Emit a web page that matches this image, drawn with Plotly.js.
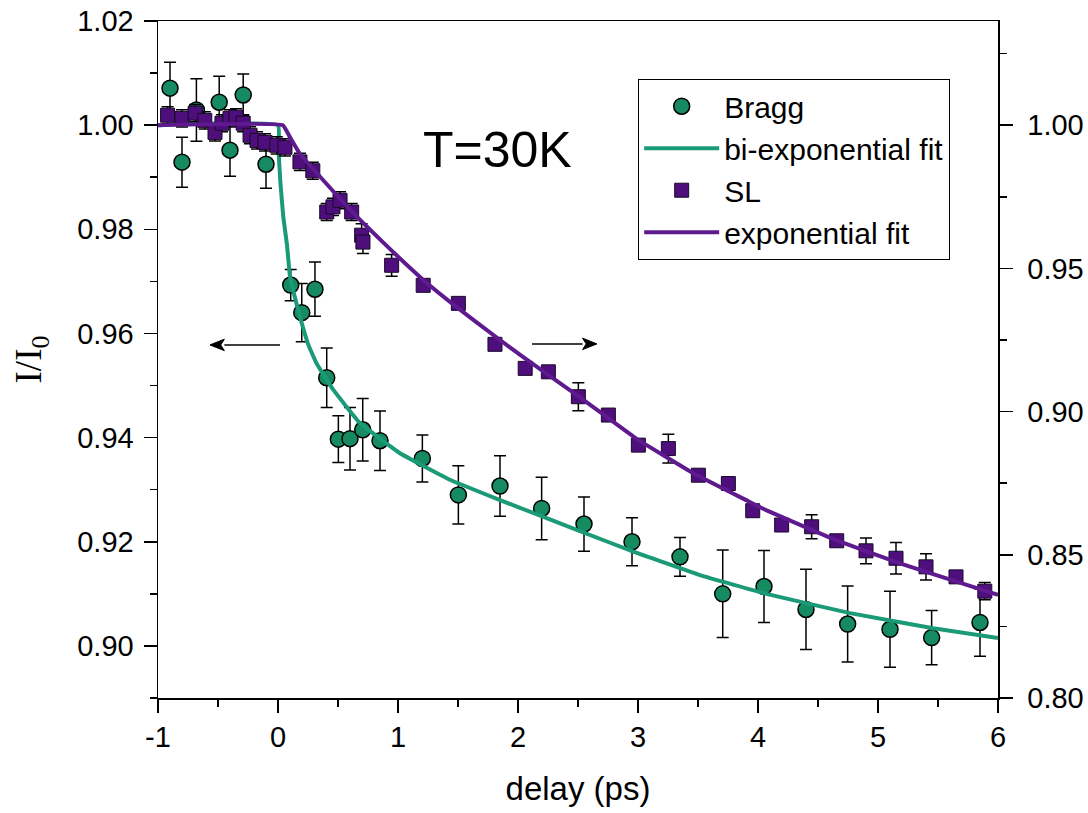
<!DOCTYPE html>
<html>
<head>
<meta charset="utf-8">
<script src="https://cdn.plot.ly/plotly-3.0.1.min.js"></script>
<style>html,body{margin:0;padding:0;background:#fff;} #chart{width:1088px;height:813px;}</style>
</head>
<body>
<div id="chart"></div>
<script>
// Bragg peak intensity (left axis)
const braggDelay = [-0.9,-0.8,-0.68,-0.49,-0.4,-0.29,-0.1,0.106,0.198,0.308,0.406,0.503,0.6,0.706,0.85,1.203,1.503,1.85,2.197,2.55,2.95,3.35,3.706,4.05,4.4,4.747,5.1,5.447,5.85];
const braggI = [1.0071,0.9929,1.0029,1.0044,0.9952,1.0058,0.9925,0.9693,0.964,0.9685,0.9515,0.9397,0.9398,0.9415,0.9394,0.936,0.929,0.9307,0.9264,0.9234,0.920,0.9171,0.910,0.9114,0.907,0.9042,0.9032,0.9016,0.9045];
const braggErr = [0.005,0.0048,0.006,0.005,0.005,0.004,0.0046,0.003,0.0056,0.0052,0.0057,0.0045,0.006,0.006,0.0057,0.0045,0.0056,0.0058,0.006,0.0052,0.0046,0.0037,0.0084,0.0069,0.0077,0.0073,0.0073,0.0052,0.0065];

// bi-exponential fit curve (left axis)
const biFitDelay = [-1,0,0.005,0.02,0.044,0.075,0.1,0.14,0.183,0.25,0.32,0.46,0.683,1.017,1.433,1.85,2.5,2.95,3.517,4.07,4.767,5.46,6.0];
const biFitI = [1.000,1.000,0.995,0.989,0.9824,0.977,0.9709,0.967,0.9632,0.958,0.9543,0.9492,0.9428,0.937,0.9319,0.928,0.9222,0.9182,0.9136,0.9100,0.9063,0.9034,0.9015];

// SL intensity (right axis)
const slDelay = [-0.92,-0.8,-0.69,-0.61,-0.525,-0.467,-0.4,-0.35,-0.29,-0.233,-0.175,-0.108,-0.01,0.058,0.183,0.29,0.406,0.458,0.517,0.614,0.697,0.708,0.947,1.21,1.503,1.808,2.06,2.253,2.503,2.753,3.003,3.253,3.503,3.753,3.956,4.197,4.447,4.656,4.9,5.15,5.4,5.65,5.89];
const slI = [1.0035,1.0024,1.0042,1.0017,0.9975,1.0007,1.0024,1.0028,1.0007,0.9965,0.9947,0.994,0.993,0.9923,0.9872,0.9841,0.9697,0.9715,0.9738,0.9697,0.9616,0.9592,0.9511,0.9441,0.9378,0.9235,0.9151,0.9139,0.9052,0.8988,0.8883,0.8871,0.8778,0.8749,0.8654,0.8604,0.8598,0.8549,0.8514,0.8488,0.8458,0.8423,0.8373];
const slErr = [0.003,0.003,0.003,0.003,0.003,0.003,0.003,0.003,0.003,0.003,0.003,0.003,0.003,0.003,0.003,0.003,0.003,0.003,0.003,0.003,0.004,0.004,0.0038,0.002,0.002,0.002,0.002,0.002,0.0049,0.002,0.002,0.005,0.002,0.002,0.002,0.002,0.0042,0.002,0.0045,0.0055,0.0046,0.002,0.003];

// exponential fit curve (right axis)
const expFitDelay = [-1,0.04,0.1,0.183,0.6,0.878,1.211,1.489,1.85,2.044,2.517,2.989,3.461,3.906,4.072,4.628,5.183,5.739,6.0];
const expFitI = [1.0,1.0,0.9958,0.990,0.9705,0.959,0.946,0.9365,0.925,0.919,0.905,0.8905,0.8785,0.869,0.8655,0.8555,0.847,0.8395,0.836];

// tick labels
const xTickVals = [-1,0,1,2,3,4,5,6];
const xTickText = ['-1','0','1','2','3','4','5','6'];
const yLeftTickVals = [0.90,0.92,0.94,0.96,0.98,1.00,1.02];
const yRightTickVals = [0.80,0.85,0.90,0.95,1.00];

// arrow annotations (delay, left-axis intensity): tail -> head
const leftArrow = {tail: [0.017, 0.9578], head: [-0.567, 0.9578]};
const rightArrow = {tail: [2.117, 0.958], head: [2.658, 0.958]};

const FONT = 'Liberation Sans, Arial, sans-serif';
const GREEN_M = '#168a60';
const GREEN_L = '#1b9a78';
const PURPLE_M = '#4e0e7c';
const PURPLE_L = '#5e1a8e';

const traces = [
  {
    x: braggDelay, y: braggI, name: 'Bragg', type: 'scatter', mode: 'markers',
    xaxis: 'x', yaxis: 'y',
    marker: {symbol: 'circle', size: 16, color: GREEN_M, line: {color: '#000', width: 1.5}},
    error_y: {type: 'data', array: braggErr, visible: true, color: '#000', thickness: 1.5, width: 6}
  },
  {
    x: biFitDelay, y: biFitI, name: 'bi-exponential fit', type: 'scatter', mode: 'lines',
    xaxis: 'x', yaxis: 'y',
    line: {color: GREEN_L, width: 4, shape: 'spline', smoothing: 0.3}
  },
  {
    x: slDelay, y: slI, name: 'SL', type: 'scatter', mode: 'markers',
    xaxis: 'x', yaxis: 'y2',
    marker: {symbol: 'square', size: 14, color: PURPLE_M, line: {color: '#1a0a2a', width: 1}},
    error_y: {type: 'data', array: slErr, visible: true, color: '#000', thickness: 1.5, width: 6}
  },
  {
    x: expFitDelay, y: expFitI, name: 'exponential fit', type: 'scatter', mode: 'lines',
    xaxis: 'x', yaxis: 'y2',
    line: {color: PURPLE_L, width: 4, shape: 'spline', smoothing: 0.3}
  }
];

function arrowShapes(a) {
  const [tx, ty] = a.tail, [hx, hy] = a.head;
  const dir = Math.sign(hx - tx);
  const headLen = 0.12, headHalf = 0.0011;
  const bx = hx - dir * headLen;
  return [
    {type: 'line', xref: 'x', yref: 'y', x0: tx, y0: ty, x1: bx, y1: hy, line: {color: '#000', width: 1.5}},
    {type: 'path', xref: 'x', yref: 'y',
     path: `M ${hx} ${hy} L ${bx} ${hy + headHalf} L ${bx + dir * 0.03} ${hy} L ${bx} ${hy - headHalf} Z`,
     fillcolor: '#000', line: {color: '#000', width: 1}}
  ];
}

const layout = {
  width: 1088, height: 813,
  margin: {l: 158, r: 90, t: 21, b: 115, pad: 0},
  paper_bgcolor: '#fff', plot_bgcolor: '#fff',
  font: {family: FONT, color: '#000', size: 29},
  showlegend: true,
  legend: {
    x: 0.5714, y: 0.9143, xanchor: 'left', yanchor: 'top',
    bgcolor: '#fff', bordercolor: '#000', borderwidth: 1.2,
    font: {family: FONT, size: 30, color: '#000'},
    itemwidth: 75, tracegroupgap: 0
  },
  xaxis: {
    range: [-1, 6], tickmode: 'array', tickvals: xTickVals, ticktext: xTickText,
    ticks: 'outside', ticklen: 13, tickwidth: 1.5, tickcolor: '#000',
    minor: {dtick: 0.5, tick0: -1, ticks: 'outside', ticklen: 7, tickwidth: 1.5, tickcolor: '#000'},
    showline: true, linewidth: 1.5, linecolor: '#000', mirror: true,
    showgrid: false, zeroline: false,
    tickfont: {family: FONT, size: 29, color: '#000'},
    ticklabelstandoff: 0,
    title: {text: 'delay (ps)', font: {family: FONT, size: 33, color: '#000'}, standoff: 24}
  },
  yaxis: {
    range: [0.89, 1.02], tickmode: 'array', tickvals: yLeftTickVals, tickformat: '.2f',
    ticks: 'outside', ticklen: 13, tickwidth: 1.5, tickcolor: '#000',
    minor: {dtick: 0.01, tick0: 0.89, ticks: 'outside', ticklen: 7, tickwidth: 1.5, tickcolor: '#000'},
    showline: true, linewidth: 1.5, linecolor: '#000', mirror: false,
    showgrid: false, zeroline: false,
    tickfont: {family: FONT, size: 29, color: '#000'},
    ticklabelstandoff: 4,
    title: {text: 'I/I<sub>0</sub>', font: {family: 'Liberation Serif, Times New Roman, serif', size: 37, color: '#000'}, standoff: 24}
  },
  yaxis2: {
    overlaying: 'y', side: 'right', anchor: 'x',
    range: [0.80, 1.0364], tickmode: 'array', tickvals: yRightTickVals, tickformat: '.2f',
    ticks: 'outside', ticklen: 13, tickwidth: 1.5, tickcolor: '#000',
    minor: {dtick: 0.025, tick0: 0.80, ticks: 'outside', ticklen: 7, tickwidth: 1.5, tickcolor: '#000'},
    showline: true, linewidth: 1.5, linecolor: '#000',
    showgrid: false, zeroline: false,
    tickfont: {family: FONT, size: 29, color: '#000'},
    ticklabelstandoff: 9
  },
  annotations: [
    {x: 1.825, y: 0.9952, xref: 'x', yref: 'y', text: 'T=30K', showarrow: false,
     font: {family: FONT, size: 50, color: '#000'}, xanchor: 'center', yanchor: 'middle'}
  ],
  shapes: [...arrowShapes(leftArrow), ...arrowShapes(rightArrow)]
};

Plotly.newPlot('chart', traces, layout, {displayModeBar: false, staticPlot: true});
</script>
</body>
</html>
